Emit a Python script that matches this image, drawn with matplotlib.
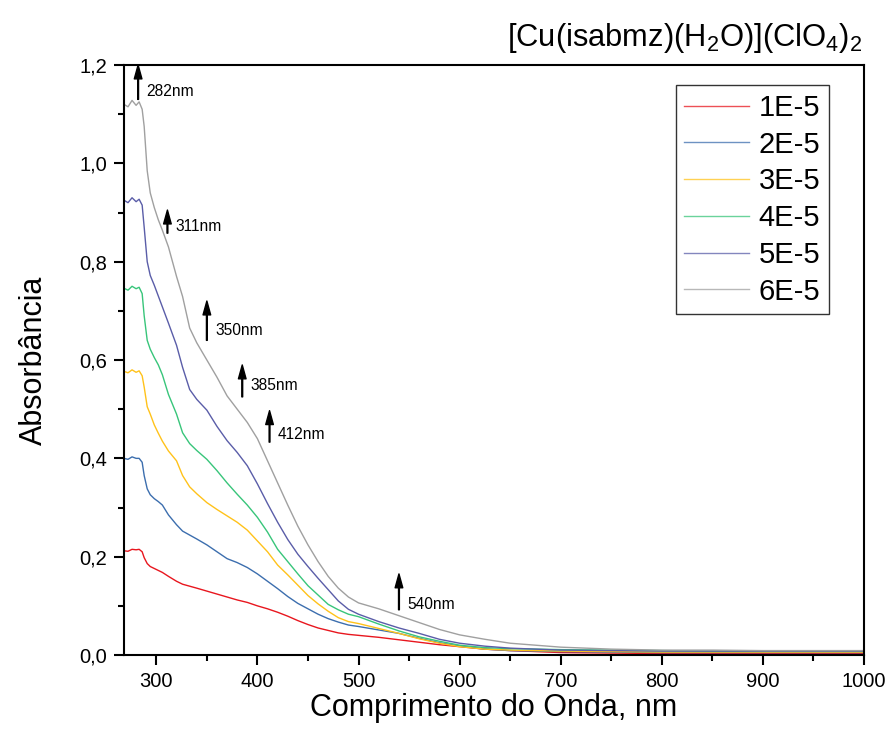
import numpy as np
import matplotlib
matplotlib.use("Agg")
import matplotlib.pyplot as plt
import matplotlib.ticker as ticker

plt.rcParams["font.family"] = ["Liberation Sans", "DejaVu Sans"]
plt.rcParams["mathtext.default"] = "regular"

# wavelength grid (nm) shared by all spectra
wavelength = [268, 272, 276, 280, 283, 286, 288, 291, 294, 298, 302, 306, 312,
              320, 326, 333, 340, 350, 360, 370, 380, 390, 400, 410, 420, 430,
              440, 450, 460, 470, 480, 490, 500, 520, 540, 560, 580, 600, 625,
              650, 700, 750, 800, 850, 900, 950, 1000]

abs_1e5 = [0.212, 0.211, 0.215, 0.214, 0.215, 0.210, 0.198, 0.186, 0.180, 0.176,
           0.172, 0.168, 0.160, 0.150, 0.144, 0.140, 0.136, 0.130, 0.124, 0.118,
           0.112, 0.107, 0.100, 0.094, 0.087, 0.079, 0.070, 0.062, 0.055, 0.050,
           0.045, 0.042, 0.040, 0.036, 0.031, 0.026, 0.021, 0.017, 0.012, 0.009,
           0.005, 0.004, 0.003, 0.003, 0.003, 0.003, 0.003]
abs_2e5 = [0.400, 0.398, 0.403, 0.400, 0.400, 0.392, 0.365, 0.338, 0.326, 0.318,
           0.312, 0.305, 0.285, 0.265, 0.252, 0.244, 0.236, 0.224, 0.210, 0.196,
           0.188, 0.178, 0.165, 0.150, 0.135, 0.119, 0.105, 0.094, 0.083, 0.074,
           0.067, 0.061, 0.058, 0.051, 0.044, 0.034, 0.025, 0.018, 0.012, 0.009,
           0.007, 0.006, 0.005, 0.005, 0.005, 0.005, 0.005]
abs_3e5 = [0.577, 0.574, 0.580, 0.575, 0.578, 0.568, 0.545, 0.505, 0.490, 0.468,
           0.451, 0.435, 0.415, 0.395, 0.365, 0.342, 0.328, 0.310, 0.296, 0.283,
           0.270, 0.254, 0.232, 0.210, 0.183, 0.163, 0.142, 0.121, 0.104, 0.089,
           0.076, 0.068, 0.064, 0.054, 0.044, 0.033, 0.024, 0.017, 0.012, 0.010,
           0.008, 0.007, 0.006, 0.006, 0.006, 0.006, 0.006]
abs_4e5 = [0.746, 0.742, 0.750, 0.745, 0.748, 0.735, 0.690, 0.640, 0.622, 0.605,
           0.590, 0.570, 0.530, 0.490, 0.452, 0.430, 0.416, 0.398, 0.375, 0.350,
           0.327, 0.305, 0.280, 0.250, 0.215, 0.190, 0.165, 0.141, 0.122, 0.103,
           0.092, 0.083, 0.078, 0.063, 0.049, 0.037, 0.028, 0.020, 0.015, 0.013,
           0.011, 0.010, 0.009, 0.008, 0.008, 0.008, 0.008]
abs_5e5 = [0.925, 0.920, 0.930, 0.922, 0.927, 0.915, 0.870, 0.800, 0.772, 0.752,
           0.730, 0.708, 0.675, 0.630, 0.585, 0.540, 0.520, 0.498, 0.465, 0.436,
           0.412, 0.385, 0.348, 0.308, 0.270, 0.235, 0.205, 0.180, 0.156, 0.133,
           0.110, 0.093, 0.083, 0.068, 0.055, 0.044, 0.032, 0.024, 0.018, 0.014,
           0.010, 0.009, 0.008, 0.008, 0.008, 0.008, 0.008]
abs_6e5 = [1.120, 1.115, 1.128, 1.118, 1.125, 1.110, 1.075, 0.985, 0.940, 0.910,
           0.885, 0.864, 0.830, 0.770, 0.729, 0.665, 0.635, 0.600, 0.565, 0.527,
           0.500, 0.473, 0.440, 0.395, 0.350, 0.305, 0.262, 0.224, 0.190, 0.160,
           0.136, 0.118, 0.106, 0.094, 0.080, 0.066, 0.052, 0.041, 0.032, 0.024,
           0.016, 0.012, 0.010, 0.010, 0.009, 0.009, 0.009]

series_labels = ["1E-5", "2E-5", "3E-5", "4E-5", "5E-5", "6E-5"]
series_values = [abs_1e5, abs_2e5, abs_3e5, abs_4e5, abs_5e5, abs_6e5]
series_colors = ["#E8161E", "#3C6EAE", "#FFC21A", "#38C57A", "#5A5DA8", "#A0A0A0"]

# band annotations: wavelength, arrow tail / head absorbance, text height
band_nm = [282, 311, 350, 385, 412, 540]
band_tail = [1.130, 0.858, 0.640, 0.525, 0.433, 0.092]
band_head = [1.200, 0.905, 0.720, 0.590, 0.497, 0.165]
band_text_y = [1.147, 0.872, 0.660, 0.548, 0.448, 0.102]

fig = plt.figure(figsize=(8.95, 7.48), dpi=100)
ax = fig.add_axes([0.1385, 0.1243, 0.8269, 0.7888])

for vals, lab, col in zip(series_values, series_labels, series_colors):
    ax.plot(wavelength, vals, color=col, lw=1.0, label=lab)

for nm, y0, y1, ty in zip(band_nm, band_tail, band_head, band_text_y):
    ax.annotate("", xy=(nm, y1), xytext=(nm, y0),
                arrowprops=dict(width=0.6, headwidth=5.5, headlength=10,
                                color="black", shrink=0),
                annotation_clip=False)
    ax.text(nm + 8, ty, f"{nm}nm", fontsize=11.2, va="center", ha="left")

ax.set_xlim(268, 1000)
ax.set_ylim(0, 1.2)
ax.xaxis.set_major_locator(ticker.MultipleLocator(100))
ax.xaxis.set_minor_locator(ticker.MultipleLocator(50))
ax.yaxis.set_major_locator(ticker.MultipleLocator(0.2))
ax.yaxis.set_minor_locator(ticker.MultipleLocator(0.1))
ax.yaxis.set_major_formatter(
    ticker.FuncFormatter(lambda v, p: f"{v:.1f}".replace(".", ",")))

ax.tick_params(which="both", direction="out", width=1.5, labelsize=14.5,
               top=False, right=False)
ax.tick_params(which="major", length=7, pad=5)
ax.tick_params(which="minor", length=4)
for sp in ax.spines.values():
    sp.set_linewidth(1.5)

ax.set_xlabel("Comprimento do Onda, nm", fontsize=22, labelpad=2)
ax.set_ylabel("Absorbância", fontsize=22, labelpad=22)

leg = ax.legend(loc="upper right", bbox_to_anchor=(0.953, 0.966),
                fontsize=21, frameon=True, fancybox=False, handlelength=2.2,
                handletextpad=0.35, labelspacing=0.3, borderpad=0.3,
                borderaxespad=0)
leg.get_frame().set_edgecolor("black")
leg.get_frame().set_linewidth(1.0)
for ln in leg.get_lines():
    ln.set_alpha(0.75)

fig.text(0.963, 0.949, r"[Cu(isabmz)(H$_2$O)](ClO$_4$)$_2$",
         fontsize=22.2, ha="right", va="center")

fig.savefig("out.png", dpi=100)
